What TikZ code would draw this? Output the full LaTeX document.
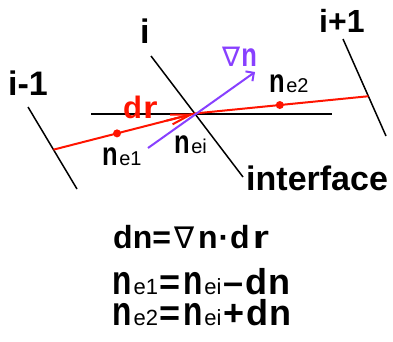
\documentclass[tikz,border=0pt]{standalone}
\usepackage{fontspec}
\setmainfont{Liberation Sans}
\newfontfamily\dvs{DejaVu Sans}
\usetikzlibrary{arrows.meta,calc}
\definecolor{myred}{RGB}{255,20,0}
\definecolor{myviolet}{RGB}{136,64,255}
\newcommand{\tn}{\scalebox{0.88}[1.14]{n}}
\newcommand{\widr}{\scalebox{1.3}[1]{r}}
\newcommand{\sbx}[2][20]{{\fontsize{#1}{#1}\selectfont\mdseries #2}}
\newcommand{\nab}[1]{{\dvs\mdseries\fontsize{#1}{#1}\selectfont ∇}}
\begin{document}
\begin{tikzpicture}[x=1pt,y=-1pt,
  blk/.style={line width=1.5pt, black},
  redl/.style={line width=2pt, myred},
  vio/.style={line width=2pt, myviolet},
  lbl/.style={inner sep=0pt, anchor=base west, font=\fontsize{34}{34}\selectfont\bfseries},
  small/.style={inner sep=0pt, anchor=base west, font=\fontsize{29}{29}\selectfont\bfseries},
  eqn/.style={inner sep=0pt, anchor=base west, font=\fontsize{36}{36}\selectfont\bfseries},
  reddot/.style={circle, fill=myred, inner sep=0pt, minimum size=8pt}]
\useasboundingbox (0,0) rectangle (393,341);
% grid lines
\coordinate (a1) at (28,107);
\coordinate (a2) at (77,189);
\coordinate (b1) at (151,56);
\coordinate (b2) at (243,177);
\coordinate (c1) at (343,39);
\coordinate (c2) at (386,136);
\coordinate (h1) at (91,114);
\coordinate (h2) at (332,114);
\coordinate (L) at ($(a1)!0.52!(a2)$);
\coordinate (X) at ($(b1)!0.475!(b2)$);
\coordinate (R) at ($(c1)!0.59!(c2)$);
\coordinate (P1) at (148,148);
\coordinate (P2) at (255,72);
\draw[blk] (a1) -- (a2);
\draw[blk] (b1) -- (b2);
\draw[blk] (c1) -- (c2);
\draw[blk] (h1) -- (h2);
% red path
\draw[redl] (L) -- (X) -- (R);
\draw[redl, -{Straight Barb[length=20pt, width=10pt]}] ($(L)!0.8!(X)$) -- (X);
\node[reddot] (d1) at ($(L)!0.45!(X)$) {};
\node[reddot] (d2) at ($(X)!0.49!(R)$) {};
% gradient arrow
\draw[vio, -{Straight Barb[length=6pt, width=12pt]}] (P1) -- (P2);
% labels
\node[lbl] (lim1) at (8,95) {i-1};
\node[lbl] (li) at (140,43) {i};
\node[lbl, font=\fontsize{32}{32}\selectfont\bfseries] (lip1) at (319,32) {i+1};
\node[small, text=myviolet] (lgrad) at (222,66) {\nab{27}\hspace{1pt}\tn};
\node[small, text=myred, font=\fontsize{31}{31}\selectfont\bfseries] (ldr) at (123,118) {d\hspace{1pt}\scalebox{1.2}[1]{r}};
\node[small] (lne2) at (269,92) {\tn\hspace{1.5pt}\sbx{e2}};
\node[small] (lne1) at (102,165) {\tn\hspace{1.5pt}\sbx{e1}};
\node[small] (lnei) at (174,153) {\tn\hspace{1.5pt}\sbx{ei}};
\node[lbl] (lint) at (246,190) {interface};
% equations
\node[eqn, font=\fontsize{32}{32}\selectfont\bfseries] (eq1) at (113,248) {dn=\hspace{4pt}\nab{30}\hspace{3pt}n\hspace{1pt}·\hspace{1pt}d\hspace{3pt}\widr};
\node[eqn] (eq2) at (112,294) {\tn\hspace{2pt}\sbx[22]{e1}\hspace{1pt}=\hspace{3pt}\tn\hspace{2pt}\sbx[22]{ei}\hspace{2pt}–\hspace{2pt}d\hspace{1pt}n};
\node[eqn] (eq3) at (112,325) {\tn\hspace{2pt}\sbx[22]{e2}\hspace{1pt}=\hspace{3pt}\tn\hspace{2pt}\sbx[22]{ei}\hspace{2pt}+\hspace{2pt}d\hspace{1pt}n};
\end{tikzpicture}
\end{document}
